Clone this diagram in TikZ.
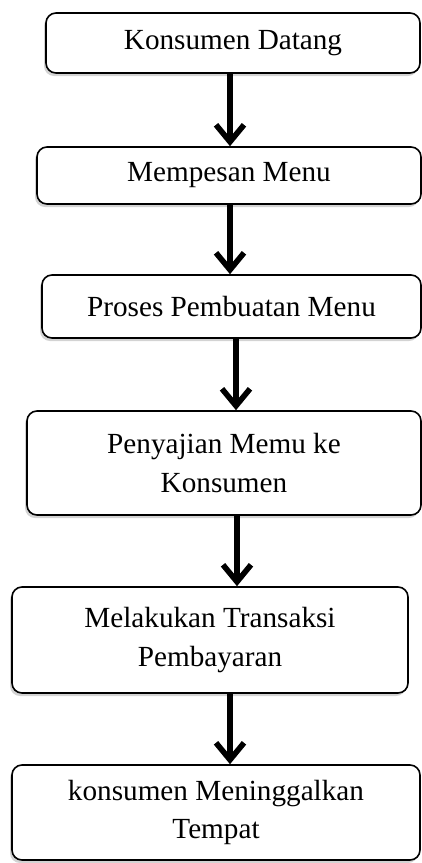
\documentclass[tikz,border=0pt]{standalone}
\usepackage{fontspec}
\setmainfont{Liberation Serif}
\usetikzlibrary{arrows.meta,shadows}
\begin{document}
\begin{tikzpicture}[x=0.5pt,y=-0.5pt,
        box/.style={draw, line width=0.8pt, rounded corners=5pt, fill=white,
            align=center, inner sep=0pt,
            font=\fontsize{14.6}{19.3}\selectfont,
            drop shadow={shadow xshift=-1pt, shadow yshift=-1.5pt, opacity=0.35}},
        flow/.style={line width=2.8pt, -{Straight Barb[length=8.5pt,width=14pt]}}]
            \useasboundingbox (0,0) rectangle (422,863);
            \node[box, minimum width=187pt, minimum height=30pt] (datang) at (233,43) {Konsumen Datang};
            \node[box, minimum width=192pt, minimum height=28.5pt] (pesan) at (229,175.5) {Mempesan Menu};
            \node[box, minimum width=189.5pt, minimum height=31.5pt] (buat) at (231.5,306.5) {Proses Pembuatan Menu};
            \node[box, minimum width=197pt, minimum height=52pt] (saji) at (224,463) {Penyajian Memu ke\\Konsumen};
            \node[box, minimum width=198pt, minimum height=53pt] (bayar) at (210,640) {Melakukan Transaksi\\Pembayaran};
            \node[box, minimum width=204pt, minimum height=47.5pt] (pulang) at (216,812.5) {konsumen Meninggalkan\\Tempat};
            \draw[flow] ([xshift=-1.5pt]datang.south) -- ([xshift=-1.5pt]datang.south |- pesan.north);
            \draw[flow] ([xshift=0.5pt]pesan.south) -- ([xshift=0.5pt]pesan.south |- buat.north);
            \draw[flow] ([xshift=2.25pt]buat.south) -- ([xshift=2.25pt]buat.south |- saji.north);
            \draw[flow] ([xshift=6.5pt]saji.south) -- ([xshift=6.5pt]saji.south |- bayar.north);
            \draw[flow] ([xshift=10pt]bayar.south) -- ([xshift=10pt]bayar.south |- pulang.north);
        \end{tikzpicture}
\end{document}
